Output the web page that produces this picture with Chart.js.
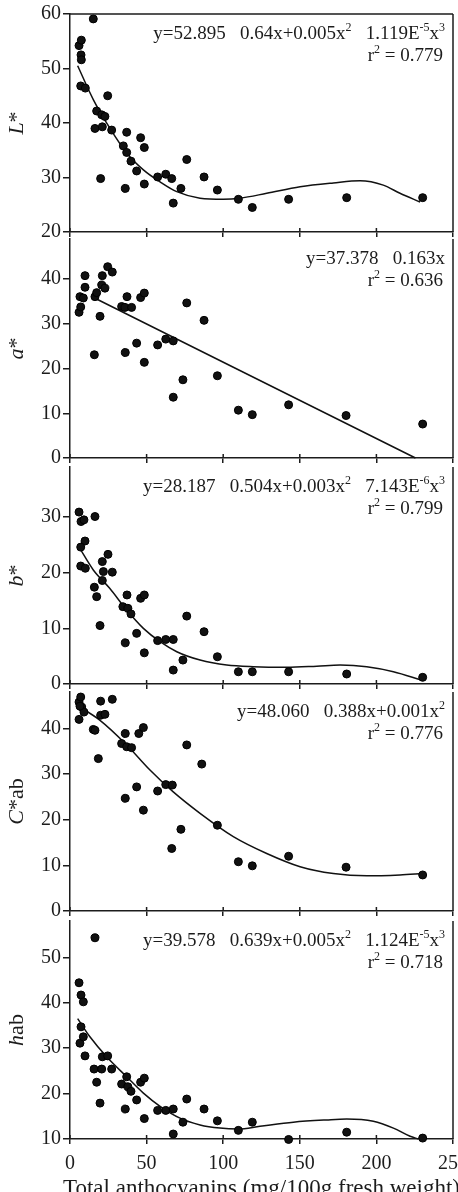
<!DOCTYPE html>
<html>
<head>
<meta charset="utf-8">
<script src="https://cdn.jsdelivr.net/npm/chart.js@4"></script>
<style>
html, body { margin: 0; padding: 0; background: #fff; overflow: hidden; width: 458px; height: 1192px; }
canvas { position: absolute; left: 0; }
</style>
</head>
<body>
<canvas id="cL"></canvas>
<canvas id="cA"></canvas>
<canvas id="cB"></canvas>
<canvas id="cC"></canvas>
<canvas id="cH"></canvas>
<script>
// Valores
const xTicks = [0, 50, 100, 150, 200, 250];
const xTitle = 'Total anthocyanins (mg/100g fresh weight)';

// L*
const lX = [5.9, 7.4, 7.2, 7.4, 15.2, 7.0, 10.0, 24.6, 17.4, 20.7, 22.8, 16.3, 21.1, 27.2, 20.0, 37.0, 34.8, 37.0, 39.8, 43.5, 36.1, 46.1, 48.5, 48.5, 57.2, 62.5, 66.4, 67.4, 72.4, 76.2, 87.5, 96.2, 109.9, 119.0, 142.7, 180.6, 230.2];
const lY = [54.2, 55.2, 52.5, 51.6, 59.1, 46.8, 46.4, 45.0, 42.2, 41.5, 41.2, 39.0, 39.3, 38.7, 29.8, 38.3, 35.8, 34.6, 33.0, 31.2, 28.0, 37.3, 35.5, 28.8, 30.1, 30.6, 29.8, 25.3, 28.0, 33.3, 30.1, 27.7, 26.0, 24.5, 26.0, 26.3, 26.3];
const lFitX = [5.0, 15.2, 25.9, 37.0, 47.9, 58.8, 69.7, 84.9, 100.1, 111.0, 128.4, 150.2, 171.9, 189.3, 204.5, 215.4, 228.5];
const lFitY = [50.5, 44.3, 39.1, 34.5, 31.4, 29.2, 27.4, 26.2, 26.0, 26.2, 27.1, 28.3, 29.0, 29.4, 28.6, 27.1, 25.5];

// a*
const aX = [5.9, 7.0, 6.5, 8.7, 9.8, 9.8, 16.3, 17.4, 15.9, 19.6, 21.1, 20.7, 22.8, 24.6, 27.6, 33.7, 35.9, 37.2, 40.2, 36.1, 43.5, 46.1, 48.5, 48.5, 57.2, 62.5, 67.4, 67.4, 73.7, 76.2, 87.5, 96.2, 109.9, 119.0, 142.7, 180.2, 230.2];
const aY = [32.6, 33.8, 36.1, 35.8, 38.2, 40.8, 36.1, 37.0, 23.1, 31.7, 40.8, 38.7, 38.0, 42.8, 41.6, 33.9, 33.7, 36.1, 33.7, 23.6, 25.7, 35.9, 36.9, 21.4, 25.3, 26.6, 26.2, 13.6, 17.5, 34.7, 30.8, 18.4, 10.7, 9.7, 11.9, 9.5, 7.6];
const aFitX = [16.0, 225.5];
const aFitY = [35.8, 0];

// b*
const bX = [5.9, 7.2, 9.1, 9.8, 7.0, 7.0, 10.0, 16.3, 15.9, 17.4, 19.6, 21.1, 21.8, 21.1, 24.8, 27.6, 34.5, 37.2, 37.8, 39.8, 36.1, 43.5, 46.1, 48.5, 48.5, 57.2, 62.5, 67.4, 67.4, 73.7, 76.2, 87.5, 96.2, 109.9, 119.0, 142.7, 180.6, 230.2];
const bY = [30.9, 29.2, 29.5, 25.7, 24.6, 21.2, 20.8, 30.1, 17.4, 15.7, 10.5, 22.0, 20.2, 18.6, 23.3, 20.1, 13.9, 16.0, 13.6, 12.6, 7.4, 9.1, 15.4, 16.0, 5.6, 7.8, 8.0, 8.0, 2.5, 4.3, 12.2, 9.4, 4.9, 2.2, 2.2, 2.2, 1.8, 1.2];
const bFitX = [5.9, 15.2, 25.9, 37.0, 47.9, 58.8, 69.7, 84.9, 102.3, 119.7, 141.5, 161.1, 176.3, 193.7, 211.1, 229.6];
const bFitY = [24.6, 20.5, 17.2, 13.3, 10.0, 7.6, 5.8, 4.3, 3.4, 3.1, 3.0, 3.2, 3.4, 3.1, 2.2, 0.7];

// C*ab
const cX = [5.9, 5.9, 7.0, 7.6, 9.1, 6.5, 15.2, 16.3, 18.5, 20.0, 20.0, 22.8, 27.6, 33.7, 36.1, 37.0, 40.2, 36.1, 43.5, 44.9, 47.9, 47.9, 57.2, 62.5, 66.8, 66.4, 72.4, 76.2, 86.0, 96.2, 109.9, 119.0, 142.7, 180.2, 230.2];
const cY = [42.0, 45.8, 46.9, 44.7, 43.6, 44.9, 39.8, 39.6, 33.4, 46.0, 42.9, 43.1, 46.4, 36.7, 38.9, 36.0, 35.8, 24.7, 27.2, 38.9, 40.2, 22.1, 26.3, 27.7, 27.6, 13.7, 17.9, 36.4, 32.2, 18.8, 10.8, 9.9, 12.0, 9.6, 7.9];
const cFitX = [4.4, 19.6, 37.0, 52.2, 67.4, 84.9, 106.6, 128.4, 150.2, 171.9, 193.7, 215.4, 230.2];
const cFitY = [45.1, 41.8, 36.4, 30.9, 26.1, 21.4, 16.3, 12.6, 9.7, 8.2, 7.7, 7.9, 8.2];

// hab
const hX = [5.9, 7.2, 8.7, 7.2, 6.5, 8.7, 9.8, 16.3, 15.7, 17.4, 19.6, 20.7, 21.1, 24.6, 27.2, 33.7, 37.0, 37.8, 39.8, 43.5, 36.1, 46.1, 48.5, 48.5, 57.2, 62.5, 67.4, 67.4, 73.7, 76.2, 87.5, 96.2, 109.9, 119.0, 142.7, 180.6, 230.2];
const hY = [44.4, 41.7, 40.2, 34.7, 31.1, 32.5, 28.3, 54.3, 25.4, 22.5, 17.9, 25.4, 28.1, 28.3, 25.4, 22.1, 23.7, 21.5, 20.5, 18.6, 16.6, 22.5, 23.4, 14.5, 16.3, 16.3, 16.6, 11.1, 13.7, 18.8, 16.6, 14.0, 11.9, 13.7, 9.9, 11.5, 10.2];
const hFitX = [5.0, 13.0, 23.9, 37.0, 47.9, 58.8, 71.8, 84.9, 97.9, 109.9, 124.0, 145.8, 167.5, 180.6, 198.0, 211.1, 222.0, 227.4];
const hFitY = [36.5, 32.5, 28.1, 23.7, 20.1, 17.2, 14.6, 13.1, 12.4, 12.2, 12.8, 13.7, 14.2, 14.4, 13.9, 12.4, 10.6, 10.0];

// Ecuaciones (^{..} = superíndice)
const lEq = ['y=52.895  0.64x+0.005x^{2}  1.119E^{-5}x^{3}', 'r^{2} = 0.779'];
const aEq = ['y=37.378  0.163x', 'r^{2} = 0.636'];
const bEq = ['y=28.187  0.504x+0.003x^{2}  7.143E^{-6}x^{3}', 'r^{2} = 0.799'];
const cEq = ['y=48.060  0.388x+0.001x^{2}', 'r^{2} = 0.776'];
const hEq = ['y=39.578  0.639x+0.005x^{2}  1.124E^{-5}x^{3}', 'r^{2} = 0.718'];

const SERIF = "'Liberation Serif', 'Times New Roman', serif";
const INK = '#1c1c1c';
const CANVAS_W = 470;
const PLOT_LEFT = 70;
const PLOT_RIGHT = 453;
const PAD_TOP = 14;
const EQ_SIZE = 19;

const panels = [
  { id: 'cL', top: 14,  bottom: 232,  min: 20, max: 60, xs: lX, ys: lY, fx: lFitX, fy: lFitY, eq: lEq, title: [['L', true], ['*', false]], topLine: true },
  { id: 'cA', top: 239, bottom: 458,  min: 0,  max: 49, xs: aX, ys: aY, fx: aFitX, fy: aFitY, eq: aEq, title: [['a', true], ['*', false]] },
  { id: 'cB', top: 467, bottom: 684,  min: 0,  max: 39, xs: bX, ys: bY, fx: bFitX, fy: bFitY, eq: bEq, title: [['b', true], ['*', false]] },
  { id: 'cC', top: 692, bottom: 911,  min: 0,  max: 48, xs: cX, ys: cY, fx: cFitX, fy: cFitY, eq: cEq, title: [['C', true], ['*ab', false]] },
  { id: 'cH', top: 921, bottom: 1139, min: 10, max: 58, xs: hX, ys: hY, fx: hFitX, fy: hFitY, eq: hEq, title: [['h', true], ['ab', false]], last: true }
];

// Texto con superíndices: devuelve trozos [texto, esSup]
function parseRich(str) {
  const parts = [];
  const re = /\^\{([^}]*)\}/g;
  let last = 0, m;
  while ((m = re.exec(str)) !== null) {
    if (m.index > last) parts.push([str.slice(last, m.index), false]);
    parts.push([m[1], true]);
    last = re.lastIndex;
  }
  if (last < str.length) parts.push([str.slice(last), false]);
  return parts;
}

function drawRichRight(ctx, str, right, baseline, size) {
  const parts = parseRich(str);
  const supSize = Math.round(size * 0.62);
  // dos espacios = hueco del signo menos perdido
  const txt = (p) => p[0].replace(/  /g, '   ');
  const widthOf = (p) => {
    ctx.font = (p[1] ? supSize : size) + 'px ' + SERIF;
    return ctx.measureText(txt(p)).width;
  };
  let total = 0;
  parts.forEach(p => total += widthOf(p));
  let x = right - total;
  ctx.textBaseline = 'alphabetic';
  ctx.textAlign = 'left';
  parts.forEach(p => {
    const w = widthOf(p);
    ctx.fillText(txt(p), x, p[1] ? baseline - size * 0.4 : baseline);
    x += w;
  });
}

const deco = {
  id: 'deco',
  afterDraw(chart, args, opts) {
    const { ctx, chartArea: a, scales: { x } } = chart;
    ctx.save();
    ctx.strokeStyle = INK;
    ctx.lineWidth = 1.5;
    ctx.beginPath();
    ctx.moveTo(a.right, a.top);
    ctx.lineTo(a.right, a.bottom);
    if (opts.topLine) {
      ctx.moveTo(a.left, a.top);
      ctx.lineTo(a.right, a.top);
    }
    x.ticks.forEach(t => {
      const px = x.getPixelForValue(t.value);
      ctx.moveTo(px, a.bottom - 4);
      ctx.lineTo(px, a.bottom);
    });
    ctx.stroke();

    // ecuación
    ctx.fillStyle = INK;
    drawRichRight(ctx, opts.eq[0], a.right - 8, a.top + 25, EQ_SIZE);
    drawRichRight(ctx, opts.eq[1], a.right - 10, a.top + 47, EQ_SIZE);

    // título eje y
    ctx.save();
    ctx.translate(23, (a.top + a.bottom) / 2);
    ctx.rotate(-Math.PI / 2);
    ctx.textBaseline = 'alphabetic';
    ctx.textAlign = 'left';
    let tw = 0;
    opts.title.forEach(s => { ctx.font = (s[1] ? 'italic ' : '') + '22px ' + SERIF; tw += ctx.measureText(s[0]).width; });
    let tx = -tw / 2;
    opts.title.forEach(s => {
      ctx.font = (s[1] ? 'italic ' : '') + '22px ' + SERIF;
      ctx.fillText(s[0], tx, 0);
      tx += ctx.measureText(s[0]).width;
    });
    ctx.restore();

    // título eje x
    if (opts.last) {
      ctx.font = '23px ' + SERIF;
      ctx.textAlign = 'center';
      ctx.textBaseline = 'alphabetic';
      ctx.fillText(xTitle, (a.left + a.right) / 2, a.bottom + 55.5);
    }
    ctx.restore();
  }
};

panels.forEach(p => {
  const bottomH = p.last ? 66 : 14;
  const h = PAD_TOP + (p.bottom - p.top) + bottomH;
  const canvas = document.getElementById(p.id);
  canvas.width = CANVAS_W;
  canvas.height = h;
  canvas.style.width = CANVAS_W + 'px';
  canvas.style.height = h + 'px';
  canvas.style.top = (p.top - PAD_TOP) + 'px';

  new Chart(canvas.getContext('2d'), {
    type: 'scatter',
    data: {
      datasets: [
        {
          data: p.xs.map((v, i) => ({ x: v, y: p.ys[i] })),
          backgroundColor: '#111',
          borderColor: '#000',
          borderWidth: 1,
          pointRadius: 4,
          order: 1
        },
        {
          data: p.fx.map((v, i) => ({ x: v, y: p.fy[i] })),
          showLine: true,
          borderColor: '#111',
          borderWidth: 1.5,
          pointRadius: 0,
          cubicInterpolationMode: 'monotone',
          order: 2
        }
      ]
    },
    options: {
      responsive: false,
      animation: false,
      events: [],
      clip: false,
      layout: { padding: { top: PAD_TOP, right: CANVAS_W - PLOT_RIGHT, left: 0, bottom: 0 } },
      scales: {
        x: {
          type: 'linear',
          min: 0,
          max: 250,
          afterBuildTicks: s => { s.ticks = xTicks.map(v => ({ value: v })); },
          afterFit: s => { s.height = bottomH; s.paddingLeft = 0; s.paddingRight = 0; },
          grid: { drawOnChartArea: false, drawTicks: true, tickLength: 5, color: INK, lineWidth: 1.5 },
          border: { display: true, color: INK, width: 1.5 },
          ticks: { display: !!p.last, padding: 8, color: INK, font: { family: SERIF, size: 20 }, maxRotation: 0 }
        },
        y: {
          type: 'linear',
          min: p.min,
          max: p.max,
          afterBuildTicks: s => { s.ticks = s.ticks.filter(t => t.value % 10 === 0); },
          afterFit: s => { s.width = PLOT_LEFT; s.paddingTop = 0; s.paddingBottom = 0; },
          grid: { drawOnChartArea: false, drawTicks: true, tickLength: 7, color: INK, lineWidth: 1.5 },
          border: { display: true, color: INK, width: 1.5 },
          ticks: { stepSize: 10, padding: 2, color: INK, font: { family: SERIF, size: 20 } }
        }
      },
      plugins: {
        legend: { display: false },
        tooltip: { enabled: false },
        deco: { eq: p.eq, title: p.title, topLine: !!p.topLine, last: !!p.last }
      }
    },
    plugins: [deco]
  });
});
</script>
</body>
</html>
